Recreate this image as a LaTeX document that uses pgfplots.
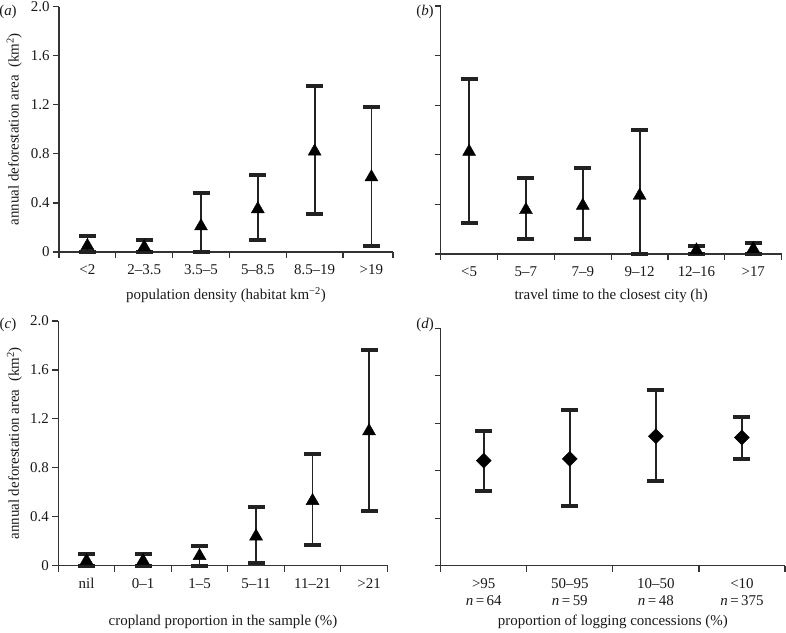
\documentclass[border=0pt]{standalone}
\usepackage{fontspec}
\setmainfont{Liberation Serif}
\usepackage{pgfplots}
\usepackage{pgfplotstable}
\pgfplotsset{compat=1.18}
\definecolor{axgray}{HTML}{333333}
\definecolor{barc}{HTML}{222222}

% x = category, y = mean, ep = upper - mean, em = mean - lower
\pgfplotstableread{
x y ep em
0 0.05 0.08 0.05
1 0.04 0.06 0.04
2 0.21 0.27 0.21
3 0.35 0.28 0.25
4 0.82 0.53 0.51
5 0.61 0.57 0.56
}\dataA
\pgfplotstableread{
x y ep em
0 0.825 0.585 0.575
1 0.355 0.255 0.235
2 0.39 0.30 0.27
3 0.47 0.53 0.47
4 0.03 0.035 0.03
5 0.04 0.05 0.04
}\dataB
\pgfplotstableread{
x y ep em
0 0.04 0.055 0.04
1 0.04 0.055 0.04
2 0.08 0.085 0.08
3 0.24 0.24 0.22
4 0.53 0.38 0.36
5 1.10 0.66 0.65
}\dataC
\pgfplotstableread{
x y ep em
0 0.885 0.25 0.255
1 0.90 0.41 0.40
2 1.09 0.39 0.38
3 1.08 0.175 0.18
}\dataD

\newcommand{\lblfont}{\fontsize{15}{17}\selectfont}
\pgfplotsset{
  panel/.style={
    scale only axis, clip=false,
    axis x line*=bottom, axis y line*=left,
    axis line style={line width=1.4bp, axgray},
    ymin=0, ymax=2,
    ytick={0,0.4,0.8,1.2,1.6,2.0},
    yticklabels={0,0.4,0.8,1.2,1.6,2.0},
    tick align=outside,
    major tick length=6bp, minor tick length=6bp,
    major tick style={line width=1.2bp, axgray},
    minor tick style={line width=1.2bp, axgray},
    major x tick style={draw=none},
    xmin=-0.5,
    xtick={0,1,2,3,4,5},
    ticklabel style={font=\lblfont, text=black!90},
    xticklabel style={yshift=-3bp},
  },
  noylab/.style={yticklabels={}},
  errplot/.style={
    only marks, black,
    error bars/y dir=both, error bars/y explicit,
    error bars/error mark=|,
    error bars/error bar style={line width=1.8bp, barc},
    error bars/error mark options={line width=4bp, mark size=8.5bp, barc, line cap=butt},
  },
}
\tikzset{lab/.style={font=\lblfont, text=black!90, anchor=center}}

\begin{document}
\begin{tikzpicture}
\useasboundingbox (0,0) rectangle (786bp,633bp);

% (a)
\begin{axis}[panel,
  at={(59bp,381bp)}, anchor=south west, width=334bp, height=245.3bp,
  xmax=5.38, minor xtick={-0.5,0.5,1.5,2.5,3.5,4.5,5.38},
  xticklabels={<2,2--3.5,3.5--5,5--8.5,8.5--19,>19}]
\addplot[errplot, mark=triangle*, mark size=7.5bp]
  table[x=x, y=y, y error plus=ep, y error minus=em]{\dataA};
\node[lab] at (axis description cs:0.5,-0.177) {population density (habitat km\textsuperscript{\char"2212 2})};
\node[lab, rotate=90] at (axis description cs:-0.134,0.5) {annual deforestation area\ \ (km\textsuperscript{2})};
\end{axis}

% (b)
\begin{axis}[panel, noylab,
  at={(440.7bp,379bp)}, anchor=south west, width=341bp, height=248bp,
  xmax=5.5, minor xtick={-0.5,0.5,1.5,2.5,3.5,4.5,5.5},
  xticklabels={<5,5--7,7--9,9--12,12--16,>17}]
\addplot[errplot, mark=triangle*, mark size=7.5bp]
  table[x=x, y=y, y error plus=ep, y error minus=em]{\dataB};
\node[lab] at (axis description cs:0.5,-0.168) {travel time to the closest city (h)};
\end{axis}

% (c)
\begin{axis}[panel,
  at={(58.3bp,67.3bp)}, anchor=south west, width=329.4bp, height=244.7bp,
  xmax=5.33, minor xtick={-0.5,0.5,1.5,2.5,3.5,4.5,5.33},
  xticklabels={nil,0--1,1--5,5--11,11--21,>21}]
\addplot[errplot, mark=triangle*, mark size=7.5bp]
  table[x=x, y=y, y error plus=ep, y error minus=em]{\dataC};
\node[lab] at (axis description cs:0.5,-0.228) {cropland proportion in the sample (\%)};
\node[lab, rotate=90] at (axis description cs:-0.133,0.5) {annual deforestation area\ \ (km\textsuperscript{2})};
\end{axis}

% (d)
\begin{axis}[panel, noylab,
  at={(440.7bp,67.3bp)}, anchor=south west, width=344.3bp, height=237.4bp,
  xmax=3.5, xtick={0,1,2,3}, minor xtick={-0.5,0.5,1.5,2.5,3.5},
  xticklabel style={align=center},
  xticklabels={{>95\\\textit{n}\,=\,64},{50--95\\\textit{n}\,=\,59},{10--50\\\textit{n}\,=\,48},{<10\\\textit{n}\,=\,375}}]
\addplot[errplot, mark=square*, mark size=5.3bp, mark options={rotate=45}]
  table[x=x, y=y, y error plus=ep, y error minus=em]{\dataD};
\node[lab] at (axis description cs:0.5,-0.235) {proportion of logging concessions (\%)};
\end{axis}

\node[lab] at (8bp,621bp) {(\textit{a})};
\node[lab] at (425bp,621bp) {(\textit{b})};
\node[lab] at (8bp,308bp) {(\textit{c})};
\node[lab] at (425bp,308bp) {(\textit{d})};
\end{tikzpicture}
\end{document}
